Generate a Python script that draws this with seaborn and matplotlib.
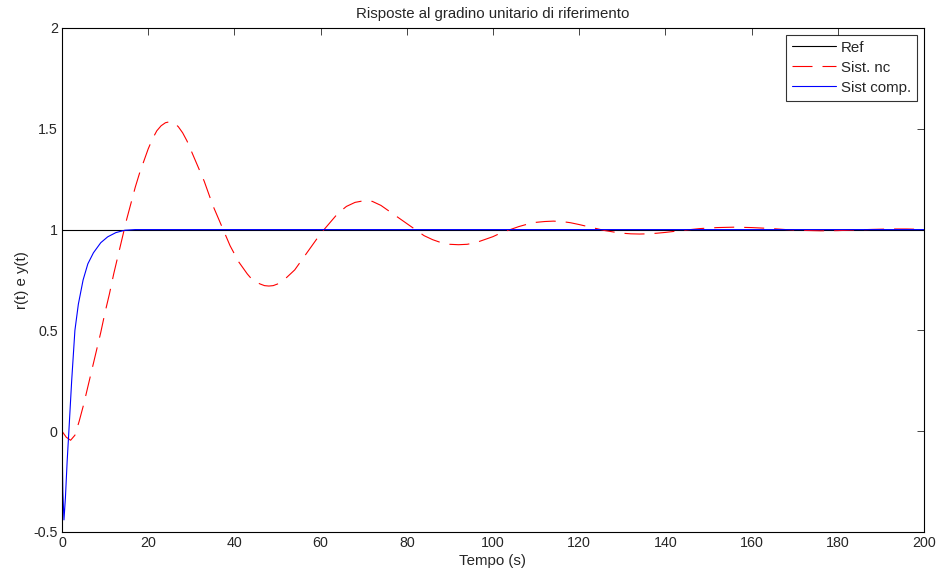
"""
Risposte al gradino: riferimento, sistema non compensato e compensato
"""
import pandas as pd
import numpy as np
import matplotlib
matplotlib.use('Agg')
import matplotlib.pyplot as plt
import matplotlib.ticker as mticker
import seaborn as sns

# ==================== 数据 ====================
t_ref = [0, 200]
y_ref = [1, 1]

t_nc = [0, 1, 2, 3, 4, 5, 6, 7, 8, 9, 10, 11, 12, 13, 14, 15, 16, 17, 18, 19,
        20, 21, 22, 23, 24, 25, 26, 27, 28, 29, 30, 31, 32, 33, 34, 35, 36, 37,
        38, 39, 40, 41, 42, 43, 44, 45, 46, 47, 48, 49, 50, 52, 54, 56, 58, 60,
        62, 64, 66, 68, 70, 72, 74, 76, 78, 80, 82, 84, 86, 88, 90, 92, 94, 96,
        98, 100, 102, 104, 106, 108, 110, 112, 114, 116, 118, 120, 122, 124,
        126, 128, 130, 132, 134, 136, 138, 140, 144, 148, 152, 156, 160, 164,
        168, 172, 176, 180, 184, 188, 192, 196, 200]
y_nc = [0, -0.03, -0.045, -0.02, 0.05, 0.13, 0.22, 0.31, 0.40, 0.49, 0.59,
        0.68, 0.78, 0.87, 0.96, 1.05, 1.13, 1.21, 1.28, 1.34, 1.40, 1.45, 1.49,
        1.515, 1.53, 1.535, 1.53, 1.51, 1.48, 1.44, 1.39, 1.34, 1.29, 1.24,
        1.18, 1.12, 1.07, 1.02, 0.97, 0.92, 0.88, 0.84, 0.81, 0.78, 0.755,
        0.74, 0.73, 0.722, 0.72, 0.722, 0.73, 0.76, 0.80, 0.86, 0.92, 0.98,
        1.03, 1.08, 1.115, 1.135, 1.143, 1.14, 1.12, 1.09, 1.06, 1.03, 1.0,
        0.97, 0.95, 0.935, 0.927, 0.925, 0.927, 0.935, 0.95, 0.965, 0.985, 1.0,
        1.015, 1.027, 1.036, 1.04, 1.042, 1.04, 1.034, 1.025, 1.015, 1.005,
        0.995, 0.988, 0.982, 0.979, 0.978, 0.979, 0.982, 0.986, 0.996, 1.005,
        1.01, 1.012, 1.01, 1.006, 1.0, 0.996, 0.994, 0.995, 0.998, 1.001,
        1.003, 1.003, 1.001]

t_comp = [0, 0.2, 0.46, 0.8, 1.2, 1.6, 2.25, 3.0, 3.8, 4.9, 6.0, 7.3, 9.0,
          10.6, 12.5, 14.6, 17, 20, 200]
y_comp = [0, -0.3, -0.44, -0.33, -0.15, 0, 0.25, 0.5, 0.63, 0.75, 0.83, 0.885,
          0.935, 0.964, 0.985, 0.997, 1.0, 1.0, 1.0]

labels = ['Ref', 'Sist. nc', 'Sist comp.']

df = pd.concat([
    pd.DataFrame({'t': t_ref, 'y': y_ref, 'serie': labels[0]}),
    pd.DataFrame({'t': t_nc, 'y': y_nc, 'serie': labels[1]}),
    pd.DataFrame({'t': t_comp, 'y': y_comp, 'serie': labels[2]}),
], ignore_index=True)

# ==================== 绘图 ====================
sns.set_style('white')
plt.rcParams['font.family'] = ['Liberation Sans', 'DejaVu Sans']

fig = plt.figure(figsize=(9.39, 5.76), dpi=100)
ax = fig.add_axes([0.066, 0.0764, 0.918, 0.875])

palette = {labels[0]: 'black', labels[1]: '#ff0000', labels[2]: '#0000ff'}
dashes = {labels[0]: '', labels[1]: (18, 9), labels[2]: ''}
sns.lineplot(data=df, x='t', y='y', hue='serie', style='serie',
             palette=palette, dashes=dashes, estimator=None, sort=True,
             linewidth=0.8, ax=ax)

ax.set_xlim(0, 200)
ax.set_ylim(-0.5, 2)
ax.set_xticks(np.arange(0, 201, 20))
ax.set_yticks(np.arange(-0.5, 2.01, 0.5))
ax.yaxis.set_major_formatter(mticker.FormatStrFormatter('%g'))
ax.tick_params(direction='in', top=True, right=True, length=5, width=0.6,
               labelsize=10.3, pad=3)
for s in ax.spines.values():
    s.set_linewidth(0.8)
    s.set_color('black')

ax.set_title('Risposte al gradino unitario di riferimento', fontsize=10.8, pad=7)
ax.set_xlabel('Tempo (s)', fontsize=10.8, labelpad=3)
ax.set_ylabel('r(t) e y(t)', fontsize=10.8, labelpad=3)

leg = ax.legend(loc='upper right', fontsize=10.8, handlelength=2.9,
                frameon=True, fancybox=False, borderaxespad=0.45,
                borderpad=0.4, labelspacing=0.4, handletextpad=0.35)
leg.get_frame().set_edgecolor('black')
leg.get_frame().set_linewidth(0.8)

fig.savefig('out.png', dpi=100)
plt.close(fig)
